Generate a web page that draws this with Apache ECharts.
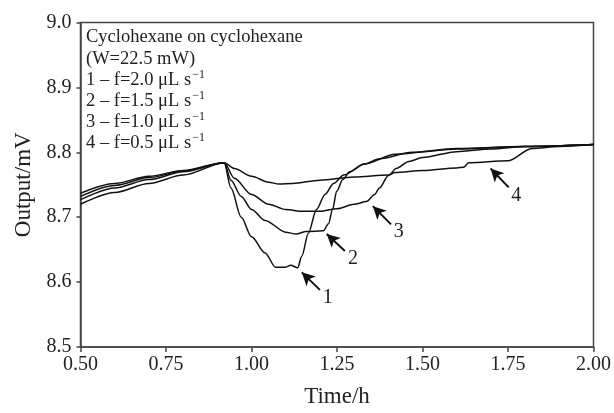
<!DOCTYPE html>
<html>
<head>
<meta charset="utf-8">
<script src="https://cdn.jsdelivr.net/npm/echarts@6/dist/echarts.min.js"></script>
<style>
    html, body { margin: 0; padding: 0; background: #fff; }
    #container { width: 614px; height: 413px; }
</style>
</head>
<body>
<div id="container"></div>
<script type="text/javascript">
    // time (h) and output (mV) for each flow rate
    var t1 = [0.50, 0.60, 0.70, 0.80, 0.92, 0.94, 0.97, 1.00, 1.04, 1.07, 1.10, 1.115, 1.135, 1.147, 1.166, 1.19, 1.215, 1.24, 1.27, 1.33, 1.42, 1.60, 1.80, 2.00];
    var v1 = [8.720, 8.738, 8.752, 8.765, 8.784, 8.745, 8.700, 8.670, 8.645, 8.623, 8.623, 8.626, 8.622, 8.640, 8.675, 8.712, 8.735, 8.752, 8.765, 8.782, 8.797, 8.806, 8.809, 8.812];

    var t2 = [0.50, 0.60, 0.70, 0.80, 0.92, 0.94, 0.97, 1.00, 1.04, 1.10, 1.13, 1.16, 1.21, 1.225, 1.237, 1.249, 1.267, 1.287, 1.33, 1.374, 1.47, 1.60, 1.80, 2.00];
    var v2 = [8.727, 8.745, 8.758, 8.770, 8.784, 8.757, 8.732, 8.712, 8.695, 8.677, 8.674, 8.678, 8.679, 8.690, 8.712, 8.740, 8.758, 8.770, 8.782, 8.790, 8.800, 8.805, 8.809, 8.812];

    var t3 = [0.50, 0.60, 0.70, 0.80, 0.92, 0.95, 1.00, 1.05, 1.10, 1.15, 1.20, 1.25, 1.30, 1.336, 1.36, 1.374, 1.40, 1.423, 1.46, 1.50, 1.60, 1.70, 1.80, 2.00];
    var v3 = [8.732, 8.749, 8.761, 8.771, 8.784, 8.760, 8.735, 8.720, 8.712, 8.709, 8.709, 8.713, 8.720, 8.724, 8.735, 8.745, 8.764, 8.775, 8.786, 8.792, 8.801, 8.805, 8.809, 8.812];

    var t4 = [0.50, 0.60, 0.70, 0.80, 0.92, 0.95, 1.00, 1.05, 1.08, 1.12, 1.20, 1.30, 1.40, 1.42, 1.50, 1.60, 1.62, 1.635, 1.75, 1.82, 1.90, 2.00];
    var v4 = [8.737, 8.752, 8.763, 8.772, 8.784, 8.775, 8.763, 8.754, 8.751, 8.752, 8.757, 8.762, 8.765, 8.769, 8.772, 8.776, 8.777, 8.784, 8.787, 8.806, 8.809, 8.812];

    // arrows: [tail time, tail output, tip time, tip output]
    var arrowLabels = ['1', '2', '3', '4'];
    var arrowPos = [
        [1.200, 8.588, 1.147, 8.615],
        [1.273, 8.648, 1.220, 8.674],
        [1.408, 8.689, 1.355, 8.717],
        [1.752, 8.746, 1.699, 8.775]
    ];

    var xTicks = [0.50, 0.75, 1.00, 1.25, 1.50, 1.75, 2.00];
    var yTicks = [8.5, 8.6, 8.7, 8.8, 8.9, 9.0];

    function pairs(t, v) {
        var out = [];
        for (var i = 0; i < t.length; i++) {
            out.push([t[i], v[i]]);
        }
        return out;
    }

    var font = '"Liberation Serif", "DejaVu Serif", serif';
    var dom = document.getElementById("container");
    var myChart = echarts.init(dom);

    var lineStyle = {color: '#111', width: 1.5};
    var curves = [pairs(t1, v1), pairs(t2, v2), pairs(t3, v3), pairs(t4, v4)];
    var series = [];
    for (var k = 0; k < curves.length; k++) {
        series.push({
            type: 'line',
            data: curves[k],
            showSymbol: false,
            smooth: 0.3,
            smoothMonotone: 'x',
            lineStyle: lineStyle,
            silent: true
        });
    }

    var arrowData = [];
    for (var a = 0; a < arrowPos.length; a++) {
        arrowData.push([
            {coord: [arrowPos[a][0], arrowPos[a][1]], name: arrowLabels[a]},
            {coord: [arrowPos[a][2], arrowPos[a][3]]}
        ]);
    }
    series.push({
        type: 'line',
        data: [],
        markLine: {
            silent: true,
            symbol: ['none', 'arrow'],
            symbolSize: [10, 13],
            lineStyle: {color: '#111', width: 2, type: 'solid'},
            label: {
                show: true,
                position: 'start',
                formatter: '{b}',
                color: '#222',
                fontFamily: font,
                fontSize: 20,
                distance: 11
            },
            data: arrowData
        }
    });

    var option = {
        animation: false,
        backgroundColor: '#fff',
        title: {
            left: 86,
            top: 27,
            padding: 0,
            text: [
                'Cyclohexane on cyclohexane',
                '(W=22.5 mW)',
                '1 \u2013 f=2.0 \u03bcL s{sup|\u22121}',
                '2 \u2013 f=1.5 \u03bcL s{sup|\u22121}',
                '3 \u2013 f=1.0 \u03bcL s{sup|\u22121}',
                '4 \u2013 f=0.5 \u03bcL s{sup|\u22121}'
            ].join('\n'),
            textStyle: {
                fontFamily: font,
                fontSize: 18.5,
                fontWeight: 'normal',
                color: '#222',
                lineHeight: 21.1,
                rich: {
                    sup: {
                        fontFamily: font,
                        fontSize: 12,
                        color: '#222',
                        padding: [0, 0, 10, 1]
                    }
                }
            }
        },
        grid: {
            left: 80.5,
            right: 17,
            top: 22.5,
            bottom: 55,
            show: true,
            borderColor: '#444',
            borderWidth: 1.5
        },
        xAxis: {
            type: 'value',
            min: xTicks[0],
            max: xTicks[xTicks.length - 1],
            interval: 0.25,
            name: 'Time/h',
            nameLocation: 'middle',
            nameGap: 38,
            nameTextStyle: {fontFamily: font, fontSize: 23, color: '#222'},
            axisLine: {show: true, lineStyle: {color: '#444', width: 1.5}},
            axisTick: {show: true, inside: false, length: 5, lineStyle: {color: '#444', width: 1.5}},
            axisLabel: {
                fontFamily: font, fontSize: 20, color: '#222', margin: 8,
                formatter: function (v) { return v.toFixed(2); }
            },
            splitLine: {show: false}
        },
        yAxis: {
            type: 'value',
            min: yTicks[0],
            max: yTicks[yTicks.length - 1],
            interval: 0.1,
            name: 'Output/mV',
            nameLocation: 'middle',
            nameGap: 41,
            nameTextStyle: {fontFamily: font, fontSize: 23, color: '#222'},
            axisLine: {show: true, lineStyle: {color: '#444', width: 1.5}},
            axisTick: {show: true, inside: false, length: 4, lineStyle: {color: '#444', width: 1.5}},
            axisLabel: {
                fontFamily: font, fontSize: 20, color: '#222', margin: 9,
                formatter: function (v) { return v.toFixed(1); }
            },
            splitLine: {show: false}
        },
        series: series
    };
    myChart.setOption(option, true);
</script>
</body>
</html>
